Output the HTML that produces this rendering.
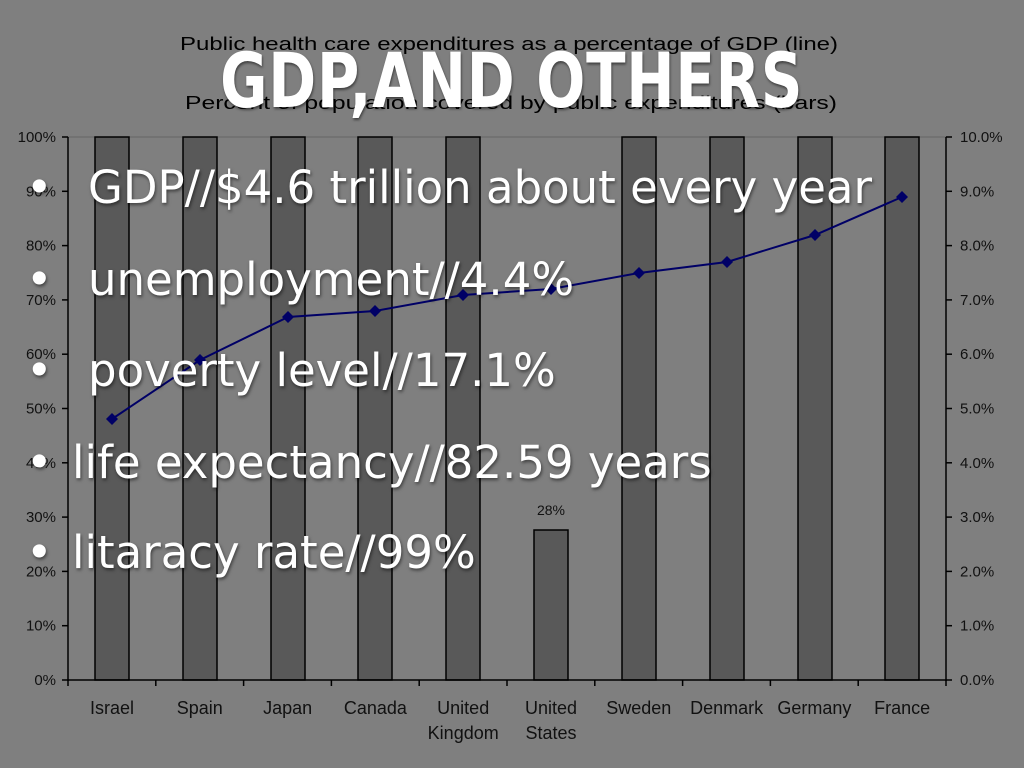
<!DOCTYPE html>
<html><head><meta charset="utf-8"><style>
body{margin:0;width:1024px;height:768px;background:#7f7f7f;overflow:hidden;position:relative;font-family:"Liberation Sans",sans-serif}
svg{position:absolute;left:0;top:0}
.ov{position:absolute;color:#fff;white-space:nowrap;text-shadow:1px 2px 3px rgba(0,0,0,.5)}
.b{position:absolute;font-family:'DejaVu Sans',sans-serif;font-size:45px;line-height:50px}
</style></head><body>
<svg width="1024" height="768" font-family="Liberation Sans, sans-serif">
<text x="180" y="50" font-size="18" textLength="658" lengthAdjust="spacingAndGlyphs" fill="#000">Public health care expenditures as a percentage of GDP (line)</text>
<text x="185" y="109" font-size="18" textLength="652" lengthAdjust="spacingAndGlyphs" fill="#000">Percent of population covered by public expenditures (bars)</text>
<line x1="68" y1="137" x2="946" y2="137" stroke="#666" stroke-width="1"/>
<g fill="#595959" stroke="#000" stroke-width="1.5">
<rect x="95" y="137" width="34" height="543"/>
<rect x="183" y="137" width="34" height="543"/>
<rect x="271" y="137" width="34" height="543"/>
<rect x="358" y="137" width="34" height="543"/>
<rect x="446" y="137" width="34" height="543"/>
<rect x="534" y="530" width="34" height="150"/>
<rect x="622" y="137" width="34" height="543"/>
<rect x="710" y="137" width="34" height="543"/>
<rect x="798" y="137" width="34" height="543"/>
<rect x="885" y="137" width="34" height="543"/>
</g>
<g stroke="#000" stroke-width="1.5">
<line x1="68" y1="137" x2="68" y2="681"/><line x1="946" y1="137" x2="946" y2="681"/>
<line x1="68" y1="680" x2="946" y2="680"/>
</g>
<g stroke="#000" stroke-width="1.5" id="t"></g>
<g font-size="15" fill="#111" id="lab"></g>
<text x="551" y="515" font-size="14" text-anchor="middle" fill="#111">28%</text>
<polyline fill="none" stroke="#000066" stroke-width="2" points="112,419 200,360 288,317 375,311 463,295 551,289 639,273 727,262 815,235 902,197"/>
<g fill="#000066" id="pts"></g>
</svg>
<div class="ov" style="left:0;width:1024px;text-align:center;top:36px;"><span style="display:inline-block;transform:scaleX(0.76);font-family:'DejaVu Sans',sans-serif;font-weight:bold;font-size:76px;letter-spacing:1px">GDP,AND OTHERS</span></div>
<div class="ov">
<div class="b" style="left:26px;top:163px">•</div><div class="b" style="left:88px;top:163px">GDP//$4.6 trillion about every year</div>
<div class="b" style="left:26px;top:255px">•</div><div class="b" style="left:88px;top:255px">unemployment//4.4%</div>
<div class="b" style="left:26px;top:346px">•</div><div class="b" style="left:88px;top:346px">poverty level//17.1%</div>
<div class="b" style="left:26px;top:438px">•</div><div class="b" style="left:72px;top:438px">life expectancy//82.59 years</div>
<div class="b" style="left:26px;top:528px">•</div><div class="b" style="left:72px;top:528px">litaracy rate//99%</div>
</div>
<script>
var ns="http://www.w3.org/2000/svg",t=document.getElementById('t'),lab=document.getElementById('lab'),pts=document.getElementById('pts');
function el(p,n,a,tx){var e=document.createElementNS(ns,n);for(var k in a)e.setAttribute(k,a[k]);if(tx)e.textContent=tx;p.appendChild(e);}
for(var i=0;i<=10;i++){var y=680-i*54.3;
el(t,'line',{x1:62,y1:y,x2:68,y2:y});el(t,'line',{x1:946,y1:y,x2:952,y2:y});
el(lab,'text',{x:56,y:y+5,'text-anchor':'end'},(i*10)+'%');
el(lab,'text',{x:960,y:y+5},(i).toFixed(1)+'%');}
for(var i=0;i<=10;i++){var x=68+i*87.8;el(t,'line',{x1:x,y1:680,x2:x,y2:686});}
var c=[["Israel"],["Spain"],["Japan"],["Canada"],["United","Kingdom"],["United","States"],["Sweden"],["Denmark"],["Germany"],["France"]];
c.forEach(function(a,i){var x=112+i*87.8;a.forEach(function(s,j){el(lab,'text',{x:x,y:714+j*25,'text-anchor':'middle','font-size':18},s);});});
"112,419 200,360 288,317 375,311 463,295 551,289 639,273 727,262 815,235 902,197".split(" ").forEach(function(p){var q=p.split(",");var x=+q[0],y=+q[1];el(pts,'polygon',{points:(x-6)+","+y+" "+x+","+(y-6)+" "+(x+6)+","+y+" "+x+","+(y+6)});});
</script>
</body></html>
